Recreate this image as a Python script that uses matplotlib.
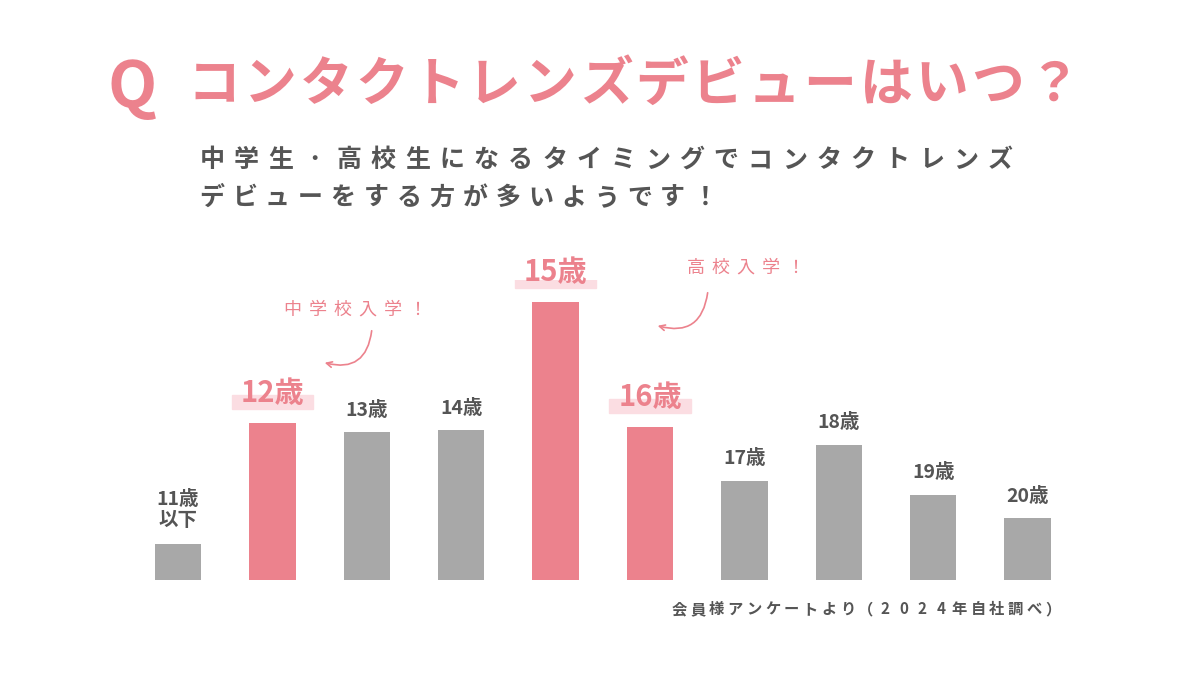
import matplotlib.pyplot as plt
from matplotlib.patches import Rectangle

plt.rcParams["font.family"] = "Noto Sans CJK JP"

labels = ["11歳\n以下", "12歳", "13歳", "14歳", "15歳", "16歳", "17歳", "18歳", "19歳", "20歳"]
values = [36, 157, 148, 150, 278, 153, 99, 135, 85, 62]
highlight = [False, True, False, False, True, True, False, False, False, False]

title = "コンタクトレンズデビューはいつ？"
sub1 = "中学生･高校生になるタイミングでコンタクトレンズ"
sub2 = "デビューをする方が多いようです！"
source = "会員様アンケートより（2024年自社調べ）"

PINK = "#ec828d"
GRAY = "#a8a8a8"
TEXT = "#555555"

fig = plt.figure(figsize=(12, 6.75), dpi=100)
W, H = 1200, 675

bg = fig.add_axes([0, 0, 1, 1])
bg.set_xlim(0, W)
bg.set_ylim(H, 0)
bg.axis("off")


def spaced(ax, x0, x1, y, s, **kw):
    # spread characters evenly between x0 and x1 (tracking like the original)
    step = (x1 - x0) / len(s)
    for k, ch in enumerate(s):
        ax.text(x0 + step * (k + 0.5), y, ch, ha="center", va="center", **kw)


bg.text(132, 88, "Q", color=PINK, fontsize=46, fontweight="bold", ha="center", va="center")
spaced(bg, 186, 1082, 85, title, color=PINK, fontsize=38, fontweight="bold")
spaced(bg, 195, 1017, 160, sub1, color=TEXT, fontsize=18, fontweight="bold")
spaced(bg, 195, 722, 198, sub2, color=TEXT, fontsize=18, fontweight="bold")
spaced(bg, 670, 1062, 609, source, color=TEXT, fontsize=11, fontweight="bold")
spaced(bg, 280, 430, 310, "中学校入学！", color=PINK, fontsize=13)
bg.annotate("", xy=(322, 362), xytext=(372, 328),
            arrowprops=dict(arrowstyle="->", color=PINK, lw=1.2,
                            connectionstyle="arc3,rad=-0.6"))
spaced(bg, 683, 808, 268, "高校入学！", color=PINK, fontsize=13)
bg.annotate("", xy=(655, 325), xytext=(708, 290),
            arrowprops=dict(arrowstyle="->", color=PINK, lw=1.2,
                            connectionstyle="arc3,rad=-0.6"))

# bar chart axes: bottom at pixel 580, 300 px tall, 94.4 px per category
ax = fig.add_axes([130.8 / W, (H - 580) / H, 944 / W, 300 / H])
ax.set_xlim(-0.5, 9.5)
ax.set_ylim(0, 300)
ax.axis("off")
ax.patch.set_alpha(0)

x = list(range(len(values)))
colors = [PINK if h else GRAY for h in highlight]
ax.bar(x, values, width=0.49, color=colors)

for i, (v, lab, h) in enumerate(zip(values, labels, highlight)):
    if h:
        ax.add_patch(Rectangle((i - 0.43, v + 14), 0.86, 14, color="#fbdde2", zorder=1))
        ax.text(i, v + 30, lab, color=PINK, fontsize=21, fontweight="bold",
                ha="center", va="center", zorder=2)
    elif "\n" in lab:
        ax.text(i, v + 34, lab, color=TEXT, fontsize=14, fontweight="bold",
                ha="center", va="center", linespacing=1.1)
    else:
        ax.text(i, v + 22, lab, color=TEXT, fontsize=14, fontweight="bold",
                ha="center", va="center")

fig.savefig("out.png", dpi=100, facecolor="white")
